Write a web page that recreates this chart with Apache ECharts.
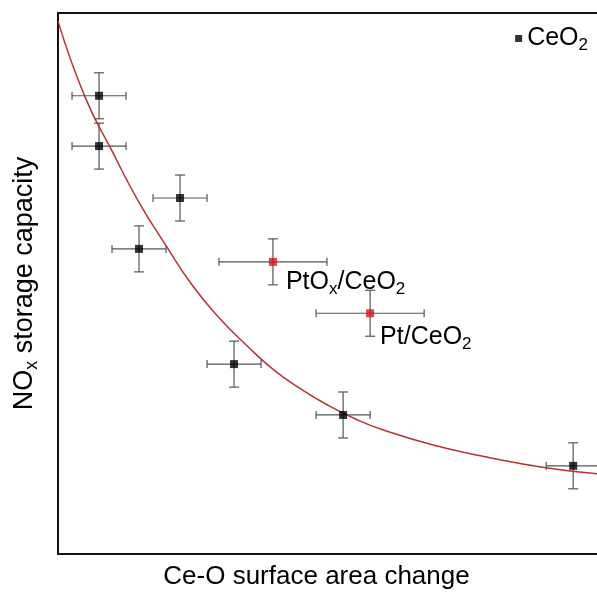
<!DOCTYPE html>
<html>
<head>
<meta charset="utf-8">
<script src="https://cdn.jsdelivr.net/npm/echarts@6/dist/echarts.min.js"></script>
<style>html,body{margin:0;padding:0;background:#fff;overflow:hidden}#c{width:597px;height:596px}</style>
</head>
<body>
<div id="c"></div>
<script>
// CeO2 samples: [x, y, xErr, yErr]
var ceo2Points = [
  [7.6, 84.7, 5, 4.25],
  [7.6, 75.4, 5, 4.25],
  [22.6, 65.8, 5, 4.25],
  [15.0, 56.4, 5, 4.25],
  [32.6, 35.1, 5, 4.25],
  [52.8, 25.7, 5, 4.25],
  [95.4, 16.3, 5, 4.25]
];
// Pt-containing samples: [x, y, xErr, yErr]
var ptPoints = [
  [39.8, 54.0, 10, 4.25],
  [57.8, 44.5, 10, 4.25]
];
var ptNames = ['PtOx/CeO2', 'Pt/CeO2'];
// fitted curve
var fitX = [0, 5, 10, 15, 20, 25, 30, 35, 40, 45, 50, 55, 60, 70, 80, 90, 100, 102];
var fitY = [98.5, 84.5, 74.5, 65, 57, 49.5, 43.5, 38.5, 34, 30.5, 27.5, 25, 23, 20, 17.8, 16, 14.8, 14.6];

var chart = echarts.init(document.getElementById('c'), null, {renderer: 'canvas'});
var FONT = 'Liberation Sans, Arial, sans-serif';
function richSet(big, small, drop) {
  return {
    a: {fontSize: big, fontFamily: FONT, color: '#000'},
    s: {fontSize: small, fontFamily: FONT, color: '#000', padding: [drop, 0, 0, 0]}
  };
}

function errorBars(points, capX, capY) {
  return {
    type: 'custom',
    silent: true,
    z: 1,
    data: points,
    renderItem: function (params, api) {
      var x = api.value(0), y = api.value(1), ex = api.value(2), ey = api.value(3);
      var l = api.coord([x - ex, y]), r = api.coord([x + ex, y]);
      var t = api.coord([x, y + ey]), b = api.coord([x, y - ey]);
      var st = {stroke: '#555', lineWidth: 1.2};
      return {
        type: 'group',
        children: [
          {type: 'line', shape: {x1: l[0], y1: l[1], x2: r[0], y2: r[1]}, style: st},
          {type: 'line', shape: {x1: l[0], y1: l[1] - capX, x2: l[0], y2: l[1] + capX}, style: st},
          {type: 'line', shape: {x1: r[0], y1: r[1] - capX, x2: r[0], y2: r[1] + capX}, style: st},
          {type: 'line', shape: {x1: t[0], y1: t[1], x2: b[0], y2: b[1]}, style: st},
          {type: 'line', shape: {x1: t[0] - capY, y1: t[1], x2: t[0] + capY, y2: t[1]}, style: st},
          {type: 'line', shape: {x1: b[0] - capY, y1: b[1], x2: b[0] + capY, y2: b[1]}, style: st}
        ]
      };
    }
  };
}

var fitData = fitX.map(function (x, i) { return [x, fitY[i]]; });
var labelOffsets = [[13, 20], [10, 24]];
var axisLineStyle = {show: true, onZero: false, lineStyle: {color: '#111', width: 2}};
var hidden = {axisTick: {show: false}, axisLabel: {show: false}, splitLine: {show: false}};

chart.setOption({
  animation: false,
  backgroundColor: '#fff',
  grid: {left: 58, top: 13, width: 545, height: 541, show: false,
         containLabel: false, outerBoundsMode: 'none'},
  legend: {
    show: true,
    data: [{name: 'CeO2', icon: 'rect'}],
    right: 4, top: 21,
    itemWidth: 7, itemHeight: 7, itemGap: 6,
    formatter: function () { return '{a|CeO}{s|2}'; },
    textStyle: {rich: richSet(25, 17, 14)}
  },
  xAxis: [
    Object.assign({
      type: 'value', min: 0, max: 545 / 5.4, position: 'bottom',
      name: 'Ce-O surface area change', nameLocation: 'middle', nameGap: 10,
      nameTextStyle: {fontSize: 26, fontFamily: FONT, color: '#000', padding: [0, 28, 0, 0]},
      axisLine: axisLineStyle
    }, hidden),
    Object.assign({
      type: 'value', min: 0, max: 545 / 5.4, position: 'top',
      axisLine: axisLineStyle
    }, hidden)
  ],
  yAxis: Object.assign({
    type: 'value', min: 0, max: 100,
    name: '{a|NO}{s|x}{a| storage capacity}', nameLocation: 'middle', nameGap: 17,
    nameTextStyle: {rich: richSet(27, 18, 15)},
    axisLine: axisLineStyle
  }, hidden),
  series: [
    {
      type: 'line', name: 'fit', data: fitData, smooth: 0.5, showSymbol: false, silent: true,
      lineStyle: {color: '#b83232', width: 1.5}, z: 2
    },
    errorBars(ceo2Points, 4, 5),
    errorBars(ptPoints, 4, 5),
    {
      type: 'scatter', name: 'CeO2', symbol: 'rect', symbolSize: 8, z: 5,
      itemStyle: {color: '#000'},
      data: ceo2Points.map(function (p) { return [p[0], p[1]]; })
    },
    {
      type: 'scatter', name: 'Pt', symbol: 'rect', symbolSize: 8, z: 5,
      itemStyle: {color: '#e01010'},
      data: ptPoints.map(function (p, i) {
        var txt = i === 0 ? '{a|PtO}{s|x}{a|/CeO}{s|2}' : '{a|Pt/CeO}{s|2}';
        return {
          value: [p[0], p[1]],
          label: {show: true, position: 'inside', align: 'left', verticalAlign: 'middle',
                  color: '#000', textBorderWidth: 0, opacity: 1,
                  offset: labelOffsets[i], formatter: txt, rich: richSet(25, 17, 14)}
        };
      })
    }
  ]
});
</script>
</body>
</html>
